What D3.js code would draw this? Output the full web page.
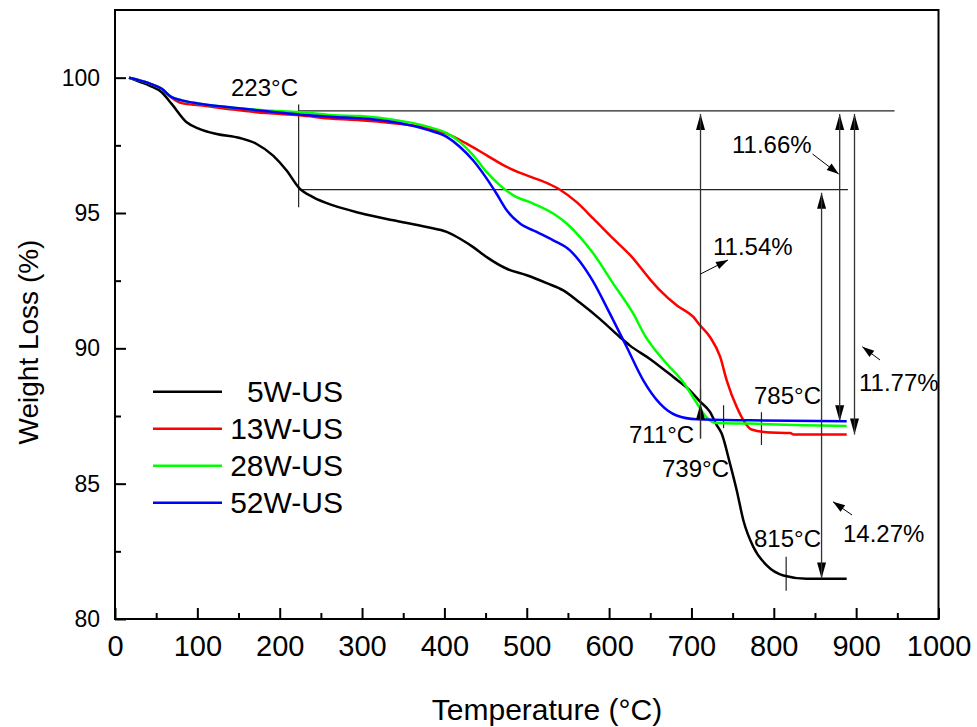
<!DOCTYPE html>
<html>
<head>
<meta charset="utf-8">
<script src="https://cdn.jsdelivr.net/npm/d3@7"></script>
<style>
  body { margin: 0; background: #fff; }
  text { font-family: "Liberation Sans", Arial, Helvetica, sans-serif; fill: #000; }
</style>
</head>
<body>
<svg id="chart" width="977" height="727"></svg>
<script>
// ---- TGA curves: temperature (°C) and remaining weight (%) ----
const seriesNames = ["5W-US", "13W-US", "28W-US", "52W-US"];
const seriesColors = ["#000000", "#ff0000", "#00ff00", "#0000ff"];

const temp5W = [17, 30, 42.5, 56.7, 68.8, 87, 103, 123.5, 151.7, 172, 192, 208.4, 223.4, 241, 265, 297.5, 338, 378.5, 402.8, 419, 435, 451.4, 475.7, 500, 524.2, 544.4, 564.7, 589, 613, 625, 650, 678, 698, 710, 722.5, 730, 736.7, 746.8, 755, 763, 775.2, 791.4, 811.6, 839.7, 888.5];
const weight5W = [100.0, 99.85, 99.7, 99.46, 99.03, 98.35, 98.1, 97.92, 97.77, 97.55, 97.12, 96.57, 95.93, 95.58, 95.28, 95.0, 94.73, 94.48, 94.30, 94.05, 93.74, 93.37, 92.94, 92.70, 92.41, 92.14, 91.68, 91.08, 90.42, 90.11, 89.6, 88.94, 88.45, 88.05, 87.65, 87.2, 86.85, 85.74, 84.75, 83.65, 82.66, 81.98, 81.61, 81.49, 81.49];

const temp13W = [17, 42.5, 56.7, 68.8, 81, 103, 143.7, 184, 223.8, 265, 297.5, 338, 378.5, 402.8, 427, 451.4, 475.7, 500, 524.2, 540.4, 560.6, 580.9, 605, 625.4, 649.7, 661.8, 682, 702.3, 710.4, 722.5, 734.7, 742.8, 755, 763, 773, 791, 820, 824, 888.5];
const weight13W = [100.0, 99.78, 99.59, 99.26, 99.06, 98.98, 98.82, 98.69, 98.61, 98.48, 98.43, 98.32, 98.15, 97.93, 97.56, 97.13, 96.70, 96.39, 96.11, 95.86, 95.40, 94.79, 94.05, 93.45, 92.55, 92.14, 91.59, 91.16, 90.85, 90.42, 89.7, 88.82, 87.83, 87.35, 87.0, 86.90, 86.87, 86.82, 86.82];

const temp28W = [17, 42.5, 56.7, 68.8, 81, 103, 143.7, 184, 223.8, 265, 297.5, 338, 378.5, 402.8, 419, 435, 451.4, 467.5, 483.7, 508, 532.2, 548.5, 564.7, 580.9, 605, 629.4, 643, 670, 690, 706, 718, 730.6, 771, 835.5, 888.5];
const weight28W = [100.0, 99.78, 99.59, 99.28, 99.16, 99.04, 98.89, 98.79, 98.73, 98.61, 98.58, 98.45, 98.2, 97.95, 97.62, 97.13, 96.51, 96.02, 95.65, 95.35, 94.98, 94.61, 94.11, 93.5, 92.39, 91.28, 90.5, 89.43, 88.75, 88.0, 87.46, 87.24, 87.22, 87.16, 87.13];

const temp52W = [17, 42.5, 56.7, 68.8, 81, 103, 143.7, 184, 223.8, 265, 297.5, 338, 378.5, 402.8, 419, 435, 451.4, 463.4, 475.7, 491.8, 512, 532.2, 552.5, 564.7, 580, 601, 621.4, 641.5, 661.8, 682, 706.4, 771, 888.5];
const weight52W = [100.0, 99.78, 99.59, 99.28, 99.16, 99.04, 98.89, 98.76, 98.64, 98.55, 98.5, 98.36, 98.08, 97.81, 97.44, 96.94, 96.27, 95.71, 95.10, 94.61, 94.30, 93.99, 93.62, 93.2, 92.5, 91.28, 90.05, 88.82, 87.96, 87.52, 87.38, 87.34, 87.31];

const seriesTemps = [temp5W, temp13W, temp28W, temp52W];
const seriesWeights = [weight5W, weight13W, weight28W, weight52W];

// ---- axis ticks ----
const xTickValues = [0, 100, 200, 300, 400, 500, 600, 700, 800, 900, 1000];
const xMinorValues = [50, 150, 250, 350, 450, 550, 650, 750, 850, 950];
const yTickValues = [80, 85, 90, 95, 100];
const yMinorValues = [82.5, 87.5, 92.5, 97.5];

// ---- annotations ----
const refLevelUpper = 98.77;   // weight after moisture loss
const refLevelLower = 95.86;   // 5W-US weight at 223 °C
const refStartTemp = 223;
const refEndTemps = [946.6, 890];

const markTemps = [223, 711, 739, 785, 815];
const markLabels = ["223°C", "711°C", "739°C", "785°C", "815°C"];
const markSpans = [[99.01, 95.21], [88.5, 86.67], [87.9, 87.05], [87.64, 86.43], [82.3, 81.04]];

const lossTemps = [711, 858, 880, 898];
const lossFrom = [98.77, 95.86, 98.77, 98.77];
const lossTo = [87.33, 81.50, 87.31, 86.82];
const lossLabels = ["11.54%", "14.27%", "11.66%", "11.77%"];

// ---- layout ----
const W = 977, H = 727;
const x = d3.scaleLinear().domain([0, 1000]).range([115, 938.5]);
const y = d3.scaleLinear().domain([80, 102.5]).range([619, 10]);

const svg = d3.select("#chart");
svg.append("rect").attr("width", W).attr("height", H).attr("fill", "#fff");

// axes with inward ticks
const gx = svg.append("g").attr("transform", `translate(0,${y(80)})`)
  .call(d3.axisBottom(x).tickValues(xTickValues).tickFormat(d3.format("d")).tickSize(-11).tickPadding(16));
gx.select(".domain").remove();
gx.selectAll("line").attr("stroke", "#000").attr("stroke-width", 2);
gx.selectAll("text").attr("font-size", 29);

const gxm = svg.append("g").attr("transform", `translate(0,${y(80)})`)
  .call(d3.axisBottom(x).tickValues(xMinorValues).tickFormat("").tickSize(-6));
gxm.select(".domain").remove();
gxm.selectAll("line").attr("stroke", "#000").attr("stroke-width", 2);

const gy = svg.append("g").attr("transform", `translate(${x(0)},0)`)
  .call(d3.axisLeft(y).tickValues(yTickValues).tickFormat(d3.format("d")).tickSize(-11).tickPadding(15));
gy.select(".domain").remove();
gy.selectAll("line").attr("stroke", "#000").attr("stroke-width", 2);
gy.selectAll("text").attr("font-size", 23);

const gym = svg.append("g").attr("transform", `translate(${x(0)},0)`)
  .call(d3.axisLeft(y).tickValues(yMinorValues).tickFormat("").tickSize(-6));
gym.select(".domain").remove();
gym.selectAll("line").attr("stroke", "#000").attr("stroke-width", 2);

// frame
svg.append("rect")
  .attr("x", x(0)).attr("y", y(102.5))
  .attr("width", x(1000) - x(0)).attr("height", y(80) - y(102.5))
  .attr("fill", "none").attr("stroke", "#000").attr("stroke-width", 2);

// axis titles
svg.append("text")
  .attr("transform", `translate(38,342) rotate(-90)`)
  .attr("text-anchor", "middle").attr("font-size", 28)
  .text("Weight Loss (%)");
svg.append("text")
  .attr("x", 547).attr("y", 720)
  .attr("text-anchor", "middle").attr("font-size", 30)
  .text("Temperature (°C)");

// reference lines
const ann = svg.append("g").attr("stroke", "#222").attr("stroke-width", 1.2).attr("fill", "none");
[refLevelUpper, refLevelLower].forEach((lvl, i) => {
  ann.append("line")
    .attr("x1", x(refStartTemp)).attr("x2", x(refEndTemps[i]))
    .attr("y1", y(lvl)).attr("y2", y(lvl));
});

// temperature marks
markTemps.forEach((t, i) => {
  ann.append("line")
    .attr("x1", x(t)).attr("x2", x(t))
    .attr("y1", y(markSpans[i][0])).attr("y2", y(markSpans[i][1]));
});

// curves
const line = d3.line().x(d => x(d[0])).y(d => y(d[1])).curve(d3.curveMonotoneX);
seriesNames.forEach((name, i) => {
  const pts = seriesTemps[i].map((t, j) => [t, seriesWeights[i][j]]);
  svg.append("path")
    .datum(pts)
    .attr("d", line)
    .attr("fill", "none")
    .attr("stroke", seriesColors[i])
    .attr("stroke-width", 2.5)
    .attr("stroke-linejoin", "round");
});

// arrow helpers
const heads = svg.append("g").attr("fill", "#000").attr("stroke", "none");
function head(tx, ty, dx, dy, len, half) {
  const n = Math.hypot(dx, dy), ux = dx / n, uy = dy / n;
  const bx = tx - ux * len, by = ty - uy * len;
  heads.append("path").attr("d",
    `M${tx},${ty}L${bx - uy * half},${by + ux * half}L${bx + uy * half},${by - ux * half}Z`);
}

// loss arrows
const arrows = svg.append("g").attr("stroke", "#333").attr("stroke-width", 1.3);
lossTemps.forEach((t, i) => {
  const ax = x(t);
  const top = y(lossFrom[i]) + 3;
  const bot = y(lossTo[i]);
  const lineBottom = i === 0 ? y(markSpans[1][1]) : bot;
  arrows.append("line").attr("x1", ax).attr("x2", ax).attr("y1", top).attr("y2", lineBottom);
  head(ax, top, 0, -1, 16, 4.5);
  if (i === 0) head(ax, bot - 17, 0, -1, 16, 4.5);
  else head(ax, bot, 0, 1, 16, 4.5);
});

// labels
const labels = svg.append("g").attr("font-size", 24);
const markLabelPos = [[231, 95.7], [629, 443], [662, 476.7], [754, 404], [754, 547]];
markLabels.forEach((s, i) => {
  labels.append("text").attr("x", markLabelPos[i][0]).attr("y", markLabelPos[i][1]).text(s);
});
const lossLabelPos = [[713, 255], [843, 541.7], [732, 153.3], [859, 390.7]];
lossLabels.forEach((s, i) => {
  labels.append("text").attr("x", lossLabelPos[i][0]).attr("y", lossLabelPos[i][1]).text(s);
});

// pointers from labels to arrows
const pointers = [
  [[x(lossTemps[0]), 274], [728, 260]],
  [[852, 515], [833, 501.7]],
  [[812.5, 154], [x(lossTemps[2]) - 1, 174]],
  [[880, 360], [862.3, 346.7]]
];
const pg = svg.append("g").attr("stroke", "#000").attr("stroke-width", 1);
pointers.forEach(([a, b]) => {
  pg.append("line").attr("x1", a[0]).attr("y1", a[1]).attr("x2", b[0]).attr("y2", b[1]);
  head(b[0], b[1], b[0] - a[0], b[1] - a[1], 12, 4);
});

// legend
const legend = svg.append("g");
seriesNames.forEach((name, i) => {
  const ly = 391.7 + i * 37;
  legend.append("line").attr("x1", 153).attr("x2", 222).attr("y1", ly).attr("y2", ly)
    .attr("stroke", seriesColors[i]).attr("stroke-width", 2.5);
  legend.append("text").attr("x", 343).attr("y", ly).attr("dy", "0.35em")
    .attr("text-anchor", "end").attr("font-size", 30).text(name);
});
</script>
</body>
</html>
